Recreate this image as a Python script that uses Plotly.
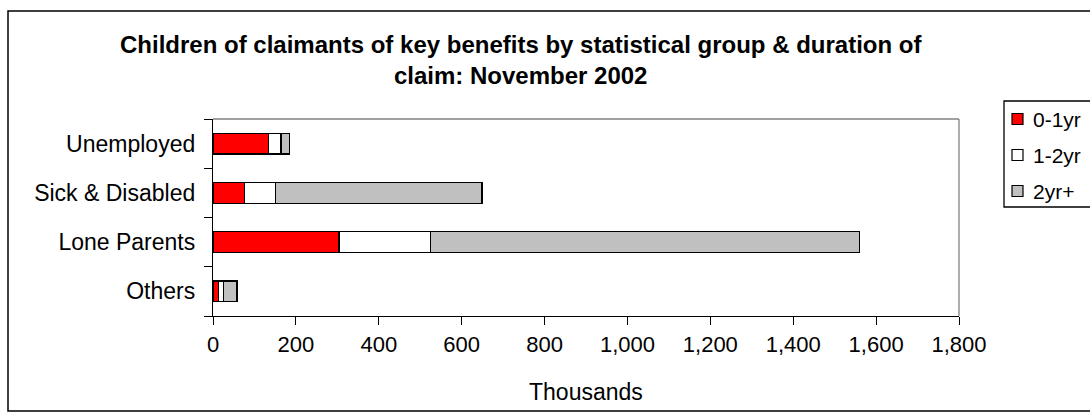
import plotly.graph_objects as go

categories = ["Others", "Lone Parents", "Sick & Disabled", "Unemployed"]
series_names = ["0-1yr", "1-2yr", "2yr+"]
v_0_1yr = [14, 304, 76, 134]
v_1_2yr = [12, 220, 74, 30]
v_2yr_plus = [32, 1036, 499, 21]
colors = ["#FF0000", "#FFFFFF", "#C0C0C0"]
x_ticks = [0, 200, 400, 600, 800, 1000, 1200, 1400, 1600, 1800]
x_tick_labels = ["0", "200", "400", "600", "800", "1,000", "1,200", "1,400", "1,600", "1,800"]
title_text = ("Children of claimants of key benefits by statistical group & duration of"
              "<br>claim: November 2002")

FONT = "Liberation Sans, Arial, sans-serif"

fig = go.Figure()
for name, vals, col in zip(series_names, [v_0_1yr, v_1_2yr, v_2yr_plus], colors):
    fig.add_trace(go.Bar(
        y=categories, x=vals, name=name, orientation="h",
        marker=dict(color=col, line=dict(color="#000000", width=1.3)),
        showlegend=False,
    ))

W, H = 1090, 416
L, R, T, B = 213, 959, 119, 316
pw, ph = R - L, B - T

def px(x):
    return (x - L) / pw

def py(y):
    return (B - y) / ph

shapes = [
    dict(type="line", xref="paper", yref="paper", x0=0, x1=1, y0=1, y1=1,
         line=dict(color="#808080", width=1.3), layer="below"),
    dict(type="line", xref="paper", yref="paper", x0=1, x1=1, y0=0, y1=1,
         line=dict(color="#808080", width=1.3), layer="below"),
    dict(type="rect", xref="paper", yref="paper",
         x0=px(8), x1=px(1100), y0=py(411), y1=py(11),
         line=dict(color="#000000", width=1.5), fillcolor="rgba(0,0,0,0)"),
    # legend box
    dict(type="rect", xref="paper", yref="paper",
         x0=px(1004), x1=px(1100), y0=py(207), y1=py(101),
         line=dict(color="#000000", width=1.3), fillcolor="white"),
]
annotations = [
    dict(text="<b>" + title_text + "</b>", xref="paper", yref="paper",
         x=px(521), y=py(60), xanchor="center", yanchor="middle",
         showarrow=False, align="center",
         font=dict(family=FONT, size=24, color="#000000")),
    dict(text="Thousands", xref="paper", yref="paper",
         x=0.5, y=py(392), xanchor="center", yanchor="middle",
         showarrow=False, font=dict(family=FONT, size=23, color="#000000")),
]

legend_rows = [119, 155, 191]
for name, col, yc in zip(series_names, colors, legend_rows):
    shapes.append(dict(type="rect", xref="paper", yref="paper",
                       x0=px(1012), x1=px(1023), y0=py(yc + 5.5), y1=py(yc - 5.5),
                       line=dict(color="#000000", width=1.2), fillcolor=col))
    annotations.append(dict(text=name, xref="paper", yref="paper",
                            x=px(1031), y=py(yc), xanchor="left", yanchor="middle",
                            showarrow=False,
                            font=dict(family=FONT, size=21, color="#000000")))

fig.update_layout(
    width=W, height=H,
    margin=dict(l=L, r=W - R, t=T, b=H - B, pad=0, autoexpand=False),
    barmode="stack",
    bargap=0.58,
    paper_bgcolor="white",
    plot_bgcolor="white",
    font=dict(family=FONT, color="#000000", size=22),
    showlegend=False,
    xaxis=dict(
        range=[0, 1800],
        tickvals=x_ticks, ticktext=x_tick_labels,
        showgrid=False, zeroline=False,
        showline=True, linecolor="#000000", linewidth=1.3,
        ticks="outside", ticklen=8, tickcolor="#000000", tickwidth=1.3,
        tickfont=dict(family=FONT, size=22),
        fixedrange=True,
    ),
    yaxis=dict(
        categoryorder="array", categoryarray=categories,
        showgrid=False, zeroline=False,
        showline=True, linecolor="#000000", linewidth=1.3,
        ticks="outside", ticklen=8, tickcolor="#000000", tickwidth=1.3,
        tickson="boundaries",
        tickfont=dict(family=FONT, size=23),
        ticklabelstandoff=12,
        fixedrange=True,
    ),
    shapes=shapes,
    annotations=annotations,
)

fig.write_html(
    "out.html",
    config={"displayModeBar": False},
    post_script="document.body.style.margin='0';document.body.style.overflow='hidden';",
)
